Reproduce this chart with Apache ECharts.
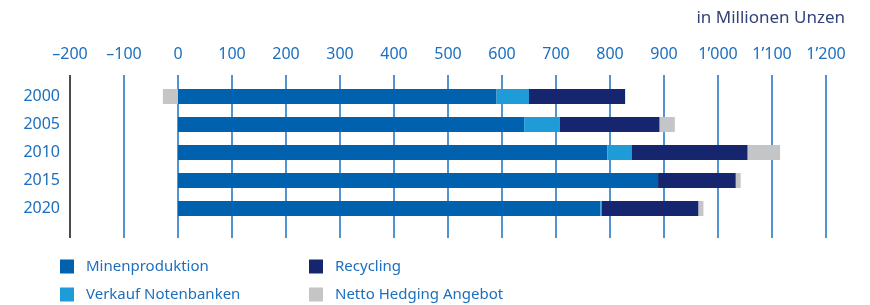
<!DOCTYPE html>
<html lang="de">
<head>
<meta charset="UTF-8">
<title>Goldangebot</title>
<script src="https://cdn.jsdelivr.net/npm/echarts@6/dist/echarts.min.js"></script>
</head>
<body style="margin:0">
<div id="chart" style="width:870px;height:305px;"></div>
<script>
// Jahre und Angebot in Millionen Unzen
var years = ['2000', '2005', '2010', '2015', '2020'];
var minenproduktion = [590, 641, 795, 889, 782];
var notenbanken = [60, 66, 45, 0, 3];
var recycling = [178, 185, 215, 144, 179];
var hedging = [-28, 28, 60, 9, 9];
var xTicks = { min: -200, max: 1200, interval: 100 };

var blue = '#1b6fbe';
var font = 'Noto Sans';

function tickLabel(v) {
    if (v < 0) return '\u2013' + Math.abs(v);
    if (v >= 1000) return Math.floor(v / 1000) + '\u2019' + String(v % 1000).padStart(3, '0');
    return String(v);
}

function barSeries(name, data, color) {
    return {
        name: name, type: 'bar', stack: 'total', data: data,
        barWidth: 15, xAxisIndex: 0, yAxisIndex: 0,
        itemStyle: { color: color }
    };
}

function legendColumn(names, left) {
    return {
        data: names, orient: 'vertical', left: left, top: 259, height: 50,
        padding: 0, itemGap: 13, itemWidth: 14, itemHeight: 14, icon: 'rect',
        textStyle: { fontFamily: font, fontSize: 15, color: blue, padding: [0, 0, 0, 7] }
    };
}

var chart = echarts.init(document.getElementById('chart'));
chart.setOption({
    animation: false,
    title: {
        text: 'in Millionen Unzen', right: 20, top: 5,
        textStyle: { fontFamily: font, fontSize: 17, fontWeight: 'normal', color: '#34427a' }
    },
    legend: [
        legendColumn(['Minenproduktion', 'Verkauf Notenbanken'], 60),
        legendColumn(['Recycling', 'Netto Hedging Angebot'], 309)
    ],
    grid: [
        { left: 70, right: 44, top: 82.5, height: 140 },
        { left: 70, right: 44, top: 75, height: 163 }
    ],
    xAxis: [{
        type: 'value', gridIndex: 0, position: 'top',
        min: xTicks.min, max: xTicks.max, interval: xTicks.interval,
        axisLine: { show: false }, axisTick: { show: false }, splitLine: { show: false },
        axisLabel: { margin: 20, formatter: tickLabel, fontFamily: font, fontSize: 16, color: blue }
    }, {
        // nur die senkrechten Linien
        type: 'value', gridIndex: 1,
        min: xTicks.min, max: xTicks.max, interval: xTicks.interval,
        axisLine: { show: false }, axisTick: { show: false }, axisLabel: { show: false },
        splitLine: {
            show: true,
            lineStyle: { width: 1.5, color: ['#111111', '#1a6fc2', '#1a6fc2', '#1a6fc2', '#1a6fc2', '#1a6fc2', '#1a6fc2', '#1a6fc2', '#1a6fc2', '#1a6fc2', '#1a6fc2', '#1a6fc2', '#1a6fc2', '#1a6fc2', '#1a6fc2'] }
        }
    }],
    yAxis: [{
        type: 'category', gridIndex: 0, inverse: true, data: years,
        axisLine: { show: false }, axisTick: { show: false },
        axisLabel: { margin: 10, fontFamily: font, fontSize: 16, color: blue }
    }, {
        type: 'value', gridIndex: 1, show: false, min: 0, max: 1
    }],
    series: [
        barSeries('Minenproduktion', minenproduktion, '#0061ae'),
        barSeries('Verkauf Notenbanken', notenbanken, '#1f9bd7'),
        barSeries('Recycling', recycling, '#15266f'),
        barSeries('Netto Hedging Angebot', hedging, '#c4c5c7')
    ]
});
</script>
</body>
</html>
